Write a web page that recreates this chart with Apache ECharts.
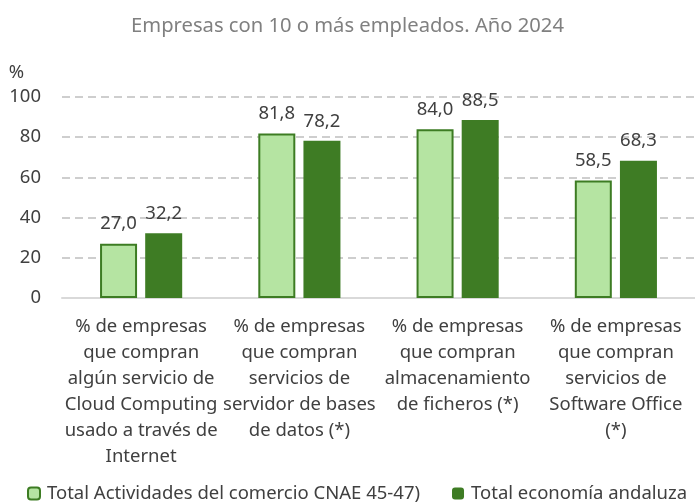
<!DOCTYPE html>
<html>
<head>
<meta charset="utf-8">
<script src="https://cdn.jsdelivr.net/npm/echarts@6/dist/echarts.min.js"></script>
<style>html,body{margin:0;padding:0;background:#fff}#c{width:695px;height:503px}</style>
</head>
<body>
<div id="c"></div>
<script>
const subtitle = 'Empresas con 10 o más empleados. Año 2024';
const categories = [
  '% de empresas\nque compran\nalgún servicio de\nCloud Computing\nusado a través de\nInternet',
  '% de empresas\nque compran\nservicios de\nservidor de bases\nde datos (*)',
  '% de empresas\nque compran\nalmacenamiento\nde ficheros (*)',
  '% de empresas\nque compran\nservicios de\nSoftware Office\n(*)'
];
const seriesNames = ['Total Actividades del comercio CNAE 45-47)', 'Total economía andaluza'];
const comercio = [27.0, 81.8, 84.0, 58.5];
const andalucia = [32.2, 78.2, 88.5, 68.3];
const yTicks = [0, 20, 40, 60, 80, 100];

const FONT = 'Noto Sans';
const FS = 18.5;
const chart = echarts.init(document.getElementById('c'));
const fmt = p => p.value.toFixed(1).replace('.', ',');
chart.setOption({
  animation: false,
  textStyle: { fontFamily: FONT },
  title: {
    text: subtitle, left: 'center', top: 11,
    textStyle: { fontFamily: FONT, fontSize: 20.2, fontWeight: 'normal', color: '#808080' }
  },
  legend: {
    top: 479, left: 22, width: 672, padding: 5, itemWidth: 12, itemHeight: 12, itemGap: 32,
    textStyle: { fontFamily: FONT, fontSize: FS, color: '#404040', padding: [0, 0, 0, 2] },
    data: seriesNames
  },
  grid: { left: 62, right: 0, top: 97, bottom: 205 },
  xAxis: {
    type: 'category', data: categories,
    axisLine: { lineStyle: { color: '#d9d9d9', width: 2 } },
    axisTick: { show: false },
    axisLabel: { interval: 0, margin: 16, fontSize: FS, lineHeight: 26, color: '#404040', fontFamily: FONT }
  },
  yAxis: {
    type: 'value', min: 0, max: 100, interval: 20,
    name: '%', nameLocation: 'end', nameGap: 15,
    nameTextStyle: { fontSize: FS, color: '#404040', align: 'right', padding: [0, 38, 0, 0] },
    axisLabel: { fontSize: FS, color: '#404040', margin: 21, formatter: v => yTicks.includes(v) ? String(v) : '' },
    splitLine: { lineStyle: { color: '#bfbfbf', type: [8, 5], width: 1.5 } }
  },
  series: [
    {
      name: seriesNames[0], type: 'bar', data: comercio, barWidth: 37, barGap: '22%',
      itemStyle: { color: '#b5e4a2', borderColor: '#3d7c23', borderWidth: 2 },
      label: { show: true, position: 'top', distance: 10, formatter: fmt, fontSize: FS, color: '#404040', fontFamily: FONT }
    },
    {
      name: seriesNames[1], type: 'bar', data: andalucia, barWidth: 37,
      itemStyle: { color: '#3e7c24' },
      label: { show: true, position: 'top', distance: 10, formatter: fmt, fontSize: FS, color: '#404040', fontFamily: FONT }
    }
  ]
});
</script>
</body>
</html>
